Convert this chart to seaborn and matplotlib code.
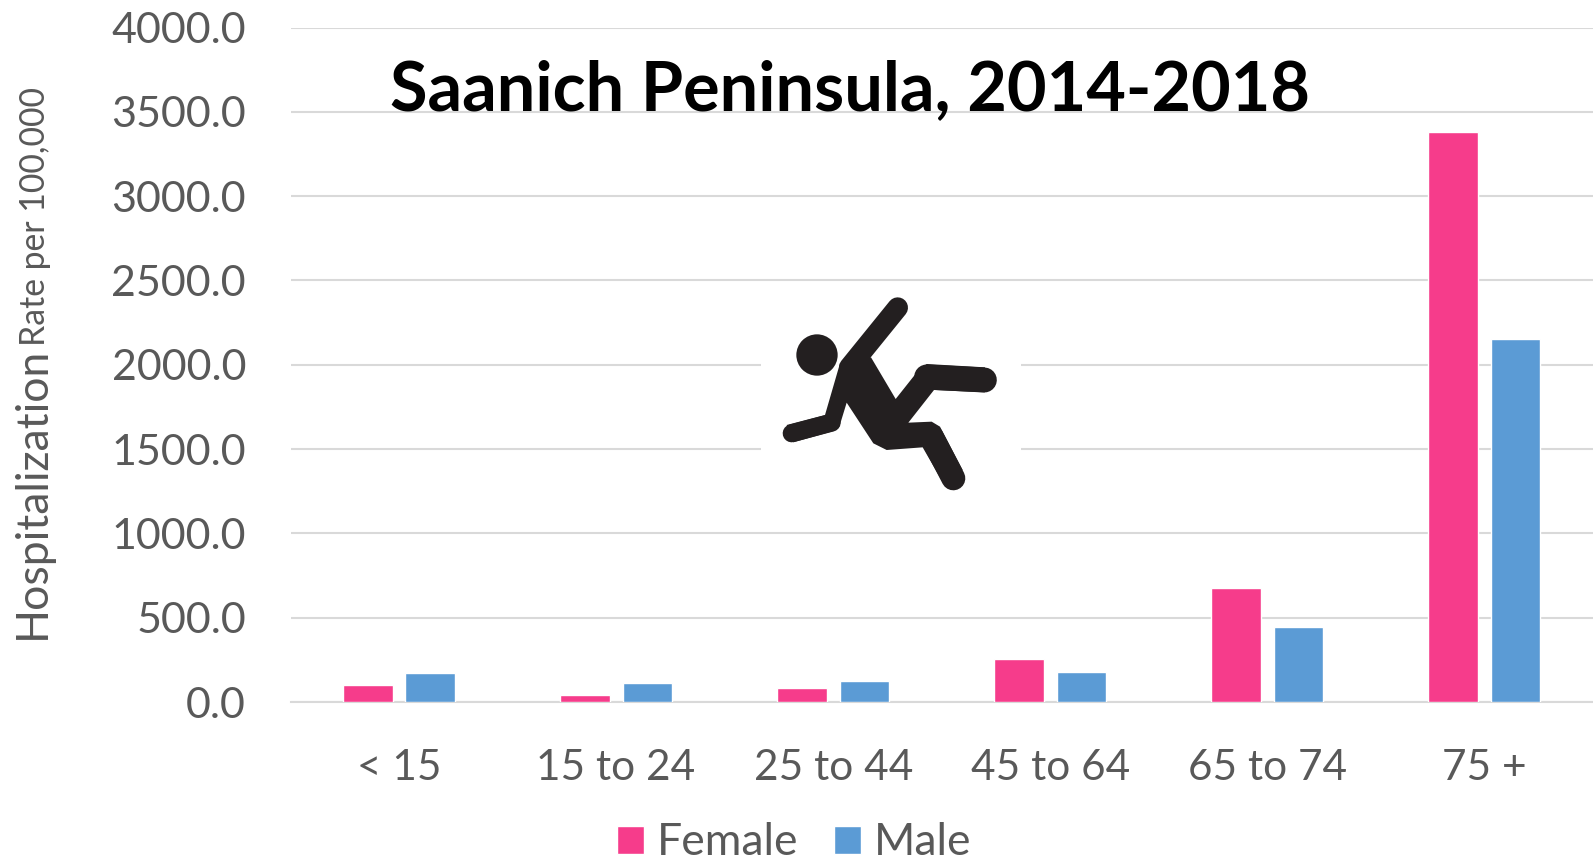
import seaborn as sns
import pandas as pd
import matplotlib.pyplot as plt
from matplotlib.patches import Circle, Polygon, Rectangle

age_groups = ["< 15", "15 to 24", "25 to 44", "45 to 64", "65 to 74", "75 +"]
female_rate = [100, 42, 82, 253, 675, 3381]
male_rate = [170, 112, 125, 180, 445, 2155]
y_ticks = [0, 500, 1000, 1500, 2000, 2500, 3000, 3500, 4000]

GREY = "#595959"
W, H = 1593, 860

sns.set_theme(style="white")
plt.rcParams["font.family"] = ["Lato", "DejaVu Sans"]

df = pd.DataFrame({
    "age": age_groups * 2,
    "sex": ["Female"] * 6 + ["Male"] * 6,
    "rate": female_rate + male_rate,
})

fig = plt.figure(figsize=(W / 100, H / 100), dpi=100)
ax = fig.add_axes([290.5 / W, 1 - 702 / H, 1 - 290.5 / W, (702 - 27.6) / H])

sns.barplot(data=df, x="age", y="rate", hue="sex", palette=["#F63C8B", "#5B9BD5"],
            width=0.575, gap=0.205, saturation=1, errorbar=None, ax=ax, zorder=3)

ax.set_xlim(-0.5, 5.5)
ax.set_ylim(0, 4000)
ax.set_yticks(y_ticks)
ax.set_yticklabels([f"{v:.1f}" for v in y_ticks])
ax.set_xlabel("")
ax.set_ylabel("")
ax.grid(axis="y", color="#D9D9D9", lw=1.5)
ax.set_axisbelow(True)
sns.despine(ax=ax, left=True, top=True, right=True)
ax.spines["bottom"].set_color("#D9D9D9")
ax.spines["bottom"].set_linewidth(1.5)
ax.tick_params(axis="y", length=0, pad=32, labelsize=31, labelcolor=GREY)
ax.tick_params(axis="x", length=0, pad=34, labelsize=30.5, labelcolor=GREY)

leg = ax.legend(loc="center left", bbox_to_anchor=(326 / (W - 290.5), -0.209), ncol=2, frameon=False,
                fontsize=32, labelcolor=GREY, handlelength=0.61, handleheight=0.61,
                handletextpad=0.29, columnspacing=0.8, borderpad=0, borderaxespad=0)

# overlay in pixel coords for the title, axis label and icon
over = fig.add_axes([0, 0, 1, 1], facecolor="none")
over.set_xlim(0, W)
over.set_ylim(H, 0)
over.axis("off")

over.text(390, 91, "Saanich Peninsula, 2014-2018", fontsize=49.2, fontweight="bold", color="black",
          ha="left", va="center")
over.text(32, 639, "Hospitalization", fontsize=32, color=GREY, rotation=90, ha="center", va="bottom")
over.text(35, 346, "Rate per 100,000", fontsize=24.3, color=GREY, rotation=90, ha="center", va="bottom")

# white patch behind the falling figure hides the gridlines
over.add_patch(Rectangle((761, 300), 260, 190, fc="white", ec="none"))


def zp(x, y):
    return 740 + x / 3, 280 + y / 3


ICON = "#231F20"
over.add_patch(Circle(zp(231, 225), 62 / 3, fc=ICON, ec="none"))
body = [(300, 250), (393, 232), (467, 357), (540, 265), (560, 252), (735, 262), (735, 337), (582, 330),
        (505, 428), (575, 425), (600, 440), (668, 570), (610, 610), (548, 502), (440, 510), (400, 490),
        (320, 368), (298, 440), (285, 452), (160, 487), (140, 435), (255, 405)]
over.add_patch(Polygon([zp(*p) for p in body], fc=ICON, ec="none"))
limbs = [[(328, 262), (473, 83)], [(560, 291), (733, 300)], [(575, 470), (640, 595)], [(155, 460), (275, 428)]]
widths = [62, 75, 72, 54]
for limb, lw in zip(limbs, widths):
    xs, ys = zip(*[zp(*p) for p in limb])
    over.plot(xs, ys, color=ICON, lw=lw / 3 * 0.72, solid_capstyle="round")

fig.savefig("out.png", dpi=100)
